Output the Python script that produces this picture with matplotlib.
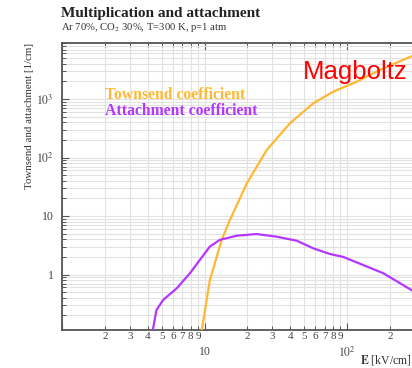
import numpy as np
import matplotlib
matplotlib.use('Agg')
import matplotlib.pyplot as plt
from matplotlib.ticker import LogLocator, FixedLocator, FuncFormatter, NullFormatter

plt.rcParams['font.family'] = ['Liberation Serif', 'DejaVu Serif']
plt.rcParams['mathtext.fontset'] = 'stix'

# Townsend coefficient: E [kV/cm], alpha [1/cm]
e_townsend = [9.5, 10.9, 13.2, 15.1, 19.8, 27.3, 39.8, 58, 80, 117, 170, 277, 330]
townsend = [0.1, 0.8, 3.9, 8.6, 36, 134, 385, 844, 1333, 1977, 3133, 5250, 6200]

# Attachment coefficient: E [kV/cm], eta [1/cm]
e_attach = [4.3, 4.6, 5.14, 6.38, 7.9, 10.9, 12.8, 16.8, 23.2, 32.1, 44.4,
            58, 76, 94, 130, 180, 284, 310]
attach = [0.1, 0.247, 0.37, 0.58, 1.05, 3.0, 3.9, 4.6, 4.92, 4.43, 3.78,
          2.8, 2.24, 2.0, 1.45, 1.05, 0.54, 0.48]

x_major = [1, 10, 100, 1000]
x_major_labels = ['', '10', '$10^2$', '']
y_major = [1, 10, 100, 1000]
y_major_labels = ['1', '10', '$10^2$', '$10^3$']

ORANGE = '#FFB833'
PURPLE = '#B436FF'
TICK_COLOR = '#444444'

W, H = 412, 368
fig = plt.figure(figsize=(W/100, H/100), dpi=100)

# axes runs past the right edge of the picture, as in the reference
left, right, top, bottom = 62, 489.5, 43, 329.5
ax = fig.add_axes([left/W, 1-bottom/H, (right-left)/W, (bottom-top)/H])

ax.plot(e_townsend, townsend, color=ORANGE, lw=1.6, zorder=3)
ax.plot(e_attach, attach, color=PURPLE, lw=1.6, zorder=3)

ax.set_xscale('log')
ax.set_yscale('log')
ax.set_xlim(1, 1000)
ax.set_ylim(10**(-(bottom-274.5)/58.5), 10**((274.5-top)/58.5))


def x_minor_label(v, pos):
    # only the digits that fit inside the picture
    if v > 250:
        return ''
    return '%d' % round(v / 10**np.floor(np.log10(v) + 1e-9))


ax.xaxis.set_major_locator(FixedLocator(x_major))
ax.xaxis.set_major_formatter(FuncFormatter(
    lambda v, pos: x_major_labels[x_major.index(round(v))] if round(v) in x_major else ''))
ax.xaxis.set_minor_locator(LogLocator(base=10, subs=np.arange(2, 10), numticks=20))
ax.xaxis.set_minor_formatter(FuncFormatter(x_minor_label))

ax.yaxis.set_major_locator(FixedLocator(y_major))
ax.yaxis.set_major_formatter(FuncFormatter(
    lambda v, pos: y_major_labels[y_major.index(round(v))] if round(v) in y_major else ''))
ax.yaxis.set_minor_locator(LogLocator(base=10, subs=np.arange(2, 10), numticks=20))
ax.yaxis.set_minor_formatter(NullFormatter())

ax.tick_params(which='both', direction='in', top=True, right=True,
               colors='#555555', labelcolor=TICK_COLOR, labelsize=8)
ax.tick_params(which='major', length=5, width=0.8)
ax.tick_params(which='minor', length=3, width=0.7)
ax.tick_params(axis='x', which='minor', pad=2, labelsize=8)
ax.tick_params(axis='x', which='major', pad=12, labelsize=8.5)
ax.tick_params(axis='y', which='major', pad=6, labelsize=8.5)

ax.grid(True, which='both', color='#e2e2e2', lw=0.8, zorder=0)
ax.set_axisbelow(True)
for sp in ax.spines.values():
    sp.set_color('#555555')
    sp.set_linewidth(1.3)

fig.text(61/W, 1-14/H, 'Multiplication and attachment', fontsize=11,
         fontweight='bold', color='#222222', ha='left', va='center')
fig.text(61/W, 1-28/H, 'Ar 70%, CO$_2$ 30%, T=300 K, p=1 atm', fontsize=7.7,
         color='#333333', ha='left', va='center')
fig.text(30/W, 1-43/H, 'Townsend and attachment [1/cm]', fontsize=7.8,
         color='#333333', rotation=90, ha='center', va='top')
fig.text(360/W, 1-360/H, r'$\mathbf{E}$ [kV/cm]', fontsize=8.5,
         color='#333333', ha='left', va='center')

fig.text(105/W, 1-95/H, 'Townsend coefficient', fontsize=11.3, fontweight='bold',
         color=ORANGE, ha='left', va='center')
fig.text(105/W, 1-111/H, 'Attachment coefficient', fontsize=11.3, fontweight='bold',
         color=PURPLE, ha='left', va='center')

fig.text(303/W, 1-72/H, 'Magboltz', fontsize=18.5, color='#FF0000',
         family='Liberation Sans', ha='left', va='center')

fig.savefig('out.png', dpi=100)
